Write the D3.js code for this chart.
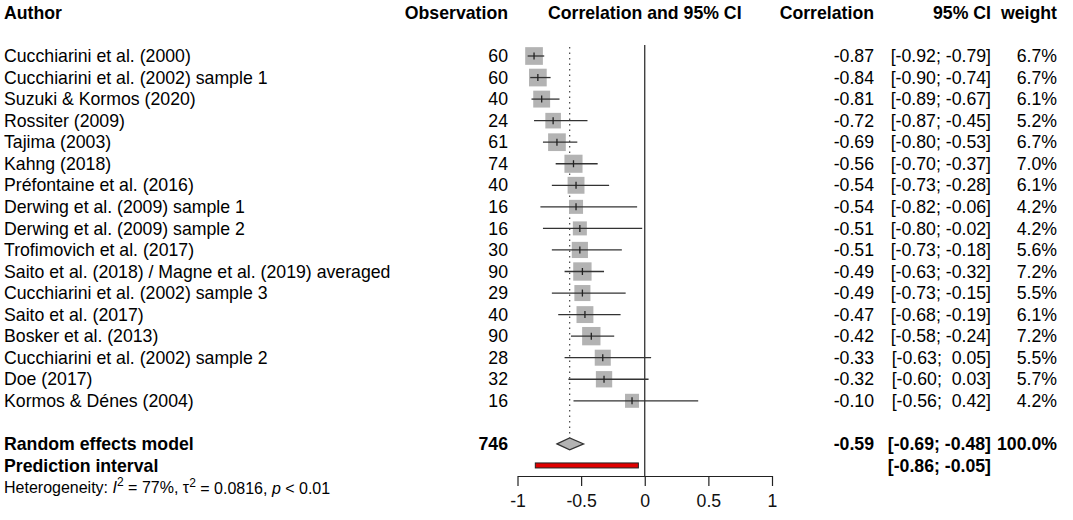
<!DOCTYPE html>
<html>
<head>
<meta charset="utf-8">
<script src="https://cdn.jsdelivr.net/npm/d3@7"></script>
<style>
  body { margin: 0; background: white; }
  svg { font-family: "Liberation Sans", Arial, Helvetica, sans-serif; }
  text { white-space: pre; }
</style>
</head>
<body>
<svg width="1073" height="520"></svg>
<script>
// study data
var authors = [
  "Cucchiarini et al. (2000)",
  "Cucchiarini et al. (2002) sample 1",
  "Suzuki & Kormos (2020)",
  "Rossiter (2009)",
  "Tajima (2003)",
  "Kahng (2018)",
  "Préfontaine et al. (2016)",
  "Derwing et al. (2009) sample 1",
  "Derwing et al. (2009) sample 2",
  "Trofimovich et al. (2017)",
  "Saito et al. (2018) / Magne et al. (2019) averaged",
  "Cucchiarini et al. (2002) sample 3",
  "Saito et al. (2017)",
  "Bosker et al. (2013)",
  "Cucchiarini et al. (2002) sample 2",
  "Doe (2017)",
  "Kormos & Dénes (2004)"
];
var observations = [60, 60, 40, 24, 61, 74, 40, 16, 16, 30, 90, 29, 40, 90, 28, 32, 16];
var correlations = [-0.87, -0.84, -0.81, -0.72, -0.69, -0.56, -0.54, -0.54, -0.51, -0.51, -0.49, -0.49, -0.47, -0.42, -0.33, -0.32, -0.10];
var lowers = [-0.92, -0.90, -0.89, -0.87, -0.80, -0.70, -0.73, -0.82, -0.80, -0.73, -0.63, -0.73, -0.68, -0.58, -0.63, -0.60, -0.56];
var uppers = [-0.79, -0.74, -0.67, -0.45, -0.53, -0.37, -0.28, -0.06, -0.02, -0.18, -0.32, -0.15, -0.19, -0.24, 0.05, 0.03, 0.42];
var weights = [6.7, 6.7, 6.1, 5.2, 6.7, 7.0, 6.1, 4.2, 4.2, 5.6, 7.2, 5.5, 6.1, 7.2, 5.5, 5.7, 4.2];

// pooled estimate
var pooledN = 746;
var pooled = { est: -0.59, lo: -0.69, hi: -0.48, weight: 100.0 };
var predInterval = [-0.86, -0.05];
var xTicks = [-1, -0.5, 0, 0.5, 1];

var data = authors.map(function(a, i) {
  return { author: a, n: observations[i], r: correlations[i], lo: lowers[i], hi: uppers[i], w: weights[i] };
});

var svg = d3.select('svg');
var fs = 17.7;

var x = d3.scaleLinear().domain([-1, 1]).range([517.5, 772]);
// rows: -2 = header, 0..16 studies, 18 = pooled, 19 = prediction, 20 = heterogeneity
var row = d3.scaleLinear().domain([0, 1]).range([56, 77.55]);
var side = d3.scaleSqrt().domain([0, 6.7]).range([0, 17.7]);

function fmt(v) { return v.toFixed(2); }
function ci(lo, hi) {
  var h = hi < 0 ? fmt(hi) : ' ' + fmt(hi);
  var l = lo < 0 ? fmt(lo) : ' ' + fmt(lo);
  return '[' + l + '; ' + h + ']';
}

var colAuthor = 4, colObs = 508, colCor = 874, colCI = 991, colW = 1057;

// headers
var hy = row(-2);
function txt(xp, yp, s, anchor, bold) {
  return svg.append('text')
    .attr('x', xp).attr('y', yp).attr('dy', '0.35em')
    .attr('text-anchor', anchor)
    .attr('font-size', fs)
    .attr('font-weight', bold ? 'bold' : 'normal')
    .text(s);
}
txt(colAuthor, hy, 'Author', 'start', true);
txt(colObs, hy, 'Observation', 'end', true);
txt(x(0), hy, 'Correlation and 95% CI', 'middle', true);
txt(colCor, hy, 'Correlation', 'end', true);
txt(colCI, hy, '95% CI', 'end', true);
txt(colW, hy, 'weight', 'end', true);

// reference lines
svg.append('line')
  .attr('x1', x(0)).attr('x2', x(0))
  .attr('y1', 45).attr('y2', 476)
  .attr('stroke', '#222').attr('stroke-width', 1.2);

svg.append('line')
  .attr('x1', x(pooled.est)).attr('x2', x(pooled.est))
  .attr('y1', 47).attr('y2', row(18) - 6)
  .attr('stroke', '#444').attr('stroke-width', 1.2)
  .attr('stroke-dasharray', '1.5,4');

// study rows
var g = svg.selectAll('g.study')
  .data(data)
  .enter()
  .append('g')
  .attr('class', 'study');

g.append('text')
  .attr('x', colAuthor).attr('y', (d, i) => row(i)).attr('dy', '0.35em')
  .attr('font-size', fs)
  .text(d => d.author);

g.append('text')
  .attr('x', colObs).attr('y', (d, i) => row(i)).attr('dy', '0.35em')
  .attr('text-anchor', 'end').attr('font-size', fs)
  .text(d => d.n);

g.append('rect')
  .attr('x', d => x(d.r) - side(d.w) / 2)
  .attr('y', (d, i) => row(i) - side(d.w) / 2)
  .attr('width', d => side(d.w))
  .attr('height', d => side(d.w))
  .attr('fill', '#b3b3b3');

g.append('line')
  .attr('x1', d => x(d.lo)).attr('x2', d => x(d.hi))
  .attr('y1', (d, i) => row(i)).attr('y2', (d, i) => row(i))
  .attr('stroke', '#333').attr('stroke-width', 1.3);

g.append('line')
  .attr('x1', d => x(d.r)).attr('x2', d => x(d.r))
  .attr('y1', (d, i) => row(i) - 3.5).attr('y2', (d, i) => row(i) + 3.5)
  .attr('stroke', '#222').attr('stroke-width', 1.3);

g.append('text')
  .attr('x', colCor).attr('y', (d, i) => row(i)).attr('dy', '0.35em')
  .attr('text-anchor', 'end').attr('font-size', fs)
  .text(d => fmt(d.r));

g.append('text')
  .attr('x', colCI).attr('y', (d, i) => row(i)).attr('dy', '0.35em')
  .attr('text-anchor', 'end').attr('font-size', fs)
  .text(d => ci(d.lo, d.hi));

g.append('text')
  .attr('x', colW).attr('y', (d, i) => row(i)).attr('dy', '0.35em')
  .attr('text-anchor', 'end').attr('font-size', fs)
  .text(d => d.w.toFixed(1) + '%');

// pooled row
var py = row(18);
txt(colAuthor, py, 'Random effects model', 'start', true);
txt(colObs, py, String(pooledN), 'end', true);
txt(colCor, py, fmt(pooled.est), 'end', true);
txt(colCI, py, ci(pooled.lo, pooled.hi), 'end', true);
txt(colW, py, pooled.weight.toFixed(1) + '%', 'end', true);

var dh = 6;
svg.append('path')
  .attr('d', 'M' + x(pooled.lo) + ',' + py +
             'L' + x(pooled.est) + ',' + (py - dh) +
             'L' + x(pooled.hi) + ',' + py +
             'L' + x(pooled.est) + ',' + (py + dh) + 'Z')
  .attr('fill', '#b3b3b3')
  .attr('stroke', '#333').attr('stroke-width', 1.2);

// prediction interval
var pry = row(19);
txt(colAuthor, pry, 'Prediction interval', 'start', true);
txt(colCI, pry, ci(predInterval[0], predInterval[1]), 'end', true);
svg.append('rect')
  .attr('x', x(predInterval[0]))
  .attr('y', pry - 2.5)
  .attr('width', x(predInterval[1]) - x(predInterval[0]))
  .attr('height', 5)
  .attr('fill', '#e00000')
  .attr('stroke', '#222').attr('stroke-width', 1);

// heterogeneity
var het = svg.append('text')
  .attr('x', colAuthor).attr('y', row(20)).attr('dy', '0.35em')
  .attr('font-size', 16);
het.append('tspan').text('Heterogeneity: ');
het.append('tspan').attr('font-style', 'italic').text('I');
het.append('tspan').attr('font-size', 12).attr('dy', '-0.55em').text('2');
het.append('tspan').attr('dy', '0.45em').text(' = 77%, \u03c4');
het.append('tspan').attr('font-size', 12).attr('dy', '-0.55em').text('2');
het.append('tspan').attr('dy', '0.45em').text(' = 0.0816, ');
het.append('tspan').attr('font-style', 'italic').text('p');
het.append('tspan').text(' < 0.01');

// x axis
var axis = d3.axisBottom(x)
  .tickValues(xTicks)
  .tickFormat(d => String(d))
  .tickSize(10)
  .tickSizeOuter(0);
var ag = svg.append('g')
  .attr('transform', 'translate(0,476)')
  .call(axis);
ag.select('.domain').attr('stroke', '#222').attr('stroke-width', 1.2);
ag.selectAll('.tick line').attr('stroke', '#222').attr('stroke-width', 1.2);
ag.selectAll('.tick text')
  .attr('font-size', fs)
  .attr('font-family', '"Liberation Sans", Arial, sans-serif')
  .attr('fill', '#111')
  .attr('y', 18);
</script>
</body>
</html>
